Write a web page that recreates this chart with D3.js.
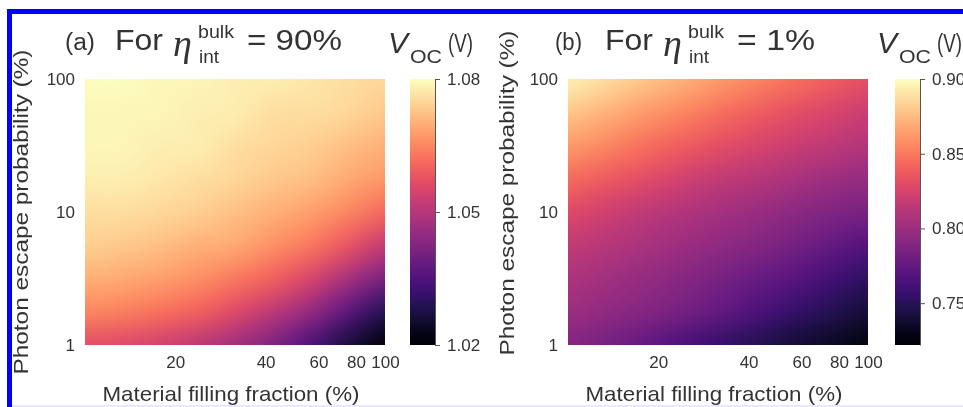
<!DOCTYPE html>
<html>
<head>
<meta charset="utf-8">
<script src="https://cdn.jsdelivr.net/npm/d3@7"></script>
<style>
  body { margin: 0; background: #fff; }
  #chart { position: relative; width: 963px; height: 407px; overflow: hidden; }
  #chart svg, #chart canvas { position: absolute; left: 0; top: 0; }
  text { font-family: "Liberation Sans", Arial, sans-serif; fill: #333; }
</style>
</head>
<body>
<div id="chart"></div>
<script>
// grid nodes (log spaced, edges included) of the maps
var fillFraction = [10, 13.3, 17.8, 23.7, 31.6, 42.2, 56.2, 75.0, 100];
var escapeProb = [100, 56.2, 31.6, 17.8, 10, 5.62, 3.16, 1.78, 1];

// Voc (V), rows top -> bottom (escapeProb), columns left -> right (fillFraction)
var vocBulk90 = [
  [1.080, 1.080, 1.079, 1.079, 1.078, 1.078, 1.077, 1.076, 1.075],
  [1.079, 1.079, 1.079, 1.078, 1.078, 1.076, 1.076, 1.075, 1.073],
  [1.079, 1.079, 1.078, 1.078, 1.076, 1.075, 1.074, 1.072, 1.070],
  [1.078, 1.078, 1.077, 1.076, 1.075, 1.073, 1.072, 1.069, 1.067],
  [1.076, 1.076, 1.075, 1.074, 1.072, 1.070, 1.068, 1.065, 1.061],
  [1.074, 1.073, 1.072, 1.070, 1.069, 1.066, 1.063, 1.058, 1.052],
  [1.070, 1.069, 1.068, 1.066, 1.063, 1.060, 1.055, 1.048, 1.041],
  [1.065, 1.064, 1.062, 1.060, 1.056, 1.051, 1.045, 1.037, 1.029],
  [1.057, 1.056, 1.054, 1.051, 1.047, 1.042, 1.035, 1.027, 1.021]
];
var vocBulk1 = [
  [0.895, 0.887, 0.879, 0.871, 0.863, 0.855, 0.847, 0.839, 0.832],
  [0.879, 0.871, 0.863, 0.855, 0.847, 0.839, 0.832, 0.826, 0.820],
  [0.863, 0.855, 0.847, 0.839, 0.832, 0.826, 0.820, 0.815, 0.809],
  [0.845, 0.838, 0.831, 0.823, 0.816, 0.811, 0.806, 0.800, 0.797],
  [0.829, 0.822, 0.815, 0.809, 0.804, 0.799, 0.793, 0.788, 0.784],
  [0.816, 0.811, 0.806, 0.800, 0.795, 0.790, 0.783, 0.775, 0.768],
  [0.807, 0.802, 0.797, 0.791, 0.784, 0.777, 0.770, 0.761, 0.752],
  [0.800, 0.795, 0.790, 0.783, 0.775, 0.766, 0.756, 0.748, 0.740],
  [0.790, 0.783, 0.775, 0.766, 0.756, 0.748, 0.740, 0.734, 0.727]
];

var xTicks = [20, 40, 60, 80, 100];
var yTicks = [1, 10, 100];
var cbarDomainA = [1.02, 1.08];
var cbarDomainB = [0.722, 0.900];
var cbarTicksA = [1.02, 1.05, 1.08];
var cbarTicksB = [0.75, 0.80, 0.85, 0.90];

var width = 963, height = 407,
    plot_top = 79, plot_h = 266, plot_w = 300;

var chart = d3.select('#chart');
var svg = chart.append('svg').attr('width', width).attr('height', height);

// blue frame
svg.append('rect')
   .attr('x', 9.5).attr('y', 11.5)
   .attr('width', 1000).attr('height', 500)
   .attr('fill', 'none')
   .attr('stroke', '#0000ff')
   .attr('stroke-width', 5);
svg.append('rect')
   .attr('x', 12).attr('y', 405)
   .attr('width', width).attr('height', 2)
   .attr('fill', '#ebe8fb');

function drawPanel(p) {
  var x = d3.scaleLog().domain([10, 100]).range([p.left, p.left + plot_w]),
      y = d3.scaleLog().domain([1, 100]).range([plot_top + plot_h, plot_top]),
      color = d3.scaleSequential(d3.interpolateMagma).domain(p.domain),
      n = fillFraction.length,
      m = escapeProb.length;

  // one pixel per grid node, scaled up smoothly onto the plot area
  var small = document.createElement('canvas');
  small.width = n; small.height = m;
  var sctx = small.getContext('2d'),
      img = sctx.createImageData(n, m);
  p.data.forEach(function(row, j) {
    row.forEach(function(v, i) {
      var c = d3.rgb(color(v)), k = (j * n + i) * 4;
      img.data[k] = c.r; img.data[k + 1] = c.g; img.data[k + 2] = c.b; img.data[k + 3] = 255;
    });
  });
  sctx.putImageData(img, 0, 0);

  var pw = (x(fillFraction[n - 1]) - x(fillFraction[0])) / (n - 1),
      ph = (y(escapeProb[m - 1]) - y(escapeProb[0])) / (m - 1),
      ix = x(fillFraction[0]) - pw / 2,
      iy = y(escapeProb[0]) - ph / 2;

  var big = chart.insert('canvas', 'svg')
                 .attr('width', plot_w).attr('height', plot_h)
                 .style('left', p.left + 'px').style('top', plot_top + 'px');
  var ctx = big.node().getContext('2d');
  ctx.imageSmoothingEnabled = true;
  ctx.imageSmoothingQuality = 'high';
  ctx.drawImage(small, ix - p.left, iy - plot_top, pw * n, ph * m);

  // axes: labels only
  var gx = svg.append('g')
              .attr('transform', 'translate(0,' + (plot_top + plot_h) + ')')
              .call(d3.axisBottom(x).tickValues(xTicks).tickFormat(d3.format('d')).tickSize(0).tickPadding(11));
  var gy = svg.append('g')
              .attr('transform', 'translate(' + p.left + ',0)')
              .call(d3.axisLeft(y).tickValues(yTicks).tickFormat(d3.format('d')).tickSize(0).tickPadding(10));
  [gx, gy].forEach(function(g) {
    g.select('.domain').remove();
    g.selectAll('text').style('font-size', '17px').attr('fill', '#333')
     .style('font-family', '"Liberation Sans", Arial, sans-serif');
  });

  svg.append('text')
     .text('Material filling fraction (%)')
     .attr('x', p.left + 146).attr('y', 401)
     .attr('text-anchor', 'middle')
     .attr('textLength', 257).attr('lengthAdjust', 'spacingAndGlyphs')
     .style('font-size', '21px');

  svg.append('text')
     .text('Photon escape probability (%)')
     .attr('transform', 'translate(' + p.ylabX + ',' + p.ylabY + ') rotate(-90)')
     .attr('text-anchor', 'middle').attr('dy', '0.36em')
     .attr('textLength', 325).attr('lengthAdjust', 'spacingAndGlyphs')
     .style('font-size', '21px');

  // colour bar
  var grad = svg.append('defs').append('linearGradient')
                .attr('id', p.id + '-grad')
                .attr('x1', 0).attr('y1', 1).attr('x2', 0).attr('y2', 0);
  d3.range(0, 1.0001, 0.05).forEach(function(t) {
    grad.append('stop')
        .attr('offset', t)
        .attr('stop-color', color(p.domain[0] + t * (p.domain[1] - p.domain[0])));
  });
  var cy = d3.scaleLinear().domain(p.domain).range([plot_top + plot_h, plot_top]);
  svg.append('rect')
     .attr('x', p.cbarX).attr('y', plot_top)
     .attr('width', 25).attr('height', plot_h)
     .attr('fill', 'url(#' + p.id + '-grad)');
  var gc = svg.append('g')
              .attr('transform', 'translate(' + (p.cbarX + 25) + ',0)')
              .call(d3.axisRight(cy).tickValues(p.ticks).tickFormat(d3.format('.2f')).tickSize(5).tickSizeOuter(0).tickPadding(7));
  gc.select('.domain').attr('stroke', '#555');
  gc.selectAll('line').attr('stroke', '#555');
  gc.selectAll('text').style('font-size', '17px').attr('fill', '#333')
    .style('font-family', '"Liberation Sans", Arial, sans-serif');

  // titles
  var t = p.title;
  svg.append('text').text(t.tag).attr('x', t.x).attr('y', 50)
     .attr('textLength', t.tagLen).attr('lengthAdjust', 'spacingAndGlyphs').style('font-size', '23px').attr('fill', '#222');
  svg.append('text').text('For').attr('x', t.x + 50).attr('y', 50)
     .attr('textLength', 48).attr('lengthAdjust', 'spacingAndGlyphs').style('font-size', '29px').attr('fill', '#222');
  svg.append('text').text('\u03b7').attr('x', t.x + 108).attr('y', 56)
     .style('font-family', '"Liberation Serif", serif').style('font-style', 'italic').style('font-size', '38px').attr('fill', '#222');
  svg.append('text').text('bulk').attr('x', t.x + 133).attr('y', 38)
     .attr('textLength', 36).attr('lengthAdjust', 'spacingAndGlyphs').style('font-size', '18px').attr('fill', '#222');
  svg.append('text').text('int').attr('x', t.x + 134).attr('y', 63)
     .attr('textLength', 20).attr('lengthAdjust', 'spacingAndGlyphs').style('font-size', '18px').attr('fill', '#222');
  svg.append('text').text(t.value).attr('x', t.x + 182).attr('y', 50)
     .attr('textLength', t.valueLen).attr('lengthAdjust', 'spacingAndGlyphs').style('font-size', '29px').attr('fill', '#222');

  // V_OC (V)
  svg.append('text').text('V').attr('x', p.vocX).attr('y', 53)
     .style('font-style', 'italic').style('font-size', '30px').attr('fill', '#222');
  svg.append('text').text('OC').attr('x', p.vocX + 22).attr('y', 63)
     .attr('textLength', 32).attr('lengthAdjust', 'spacingAndGlyphs').style('font-size', '18px').attr('fill', '#222');
  svg.append('text').text('(V)').attr('x', p.vocX + 60).attr('y', 52)
     .attr('textLength', 25).attr('lengthAdjust', 'spacingAndGlyphs').style('font-size', '25px').attr('fill', '#222');
}

drawPanel({
  id: 'a', left: 85, data: vocBulk90, domain: cbarDomainA, ticks: cbarTicksA,
  cbarX: 410, ylabX: 20, ylabY: 212, vocX: 388,
  title: { x: 65, tag: '(a)', tagLen: 30, value: '= 90%', valueLen: 95 }
});
drawPanel({
  id: 'b', left: 568, data: vocBulk1, domain: cbarDomainB, ticks: cbarTicksB,
  cbarX: 895, ylabX: 506, ylabY: 193, vocX: 877,
  title: { x: 555, tag: '(b)', tagLen: 27, value: '= 1%', valueLen: 78 }
});
</script>
</body>
</html>
